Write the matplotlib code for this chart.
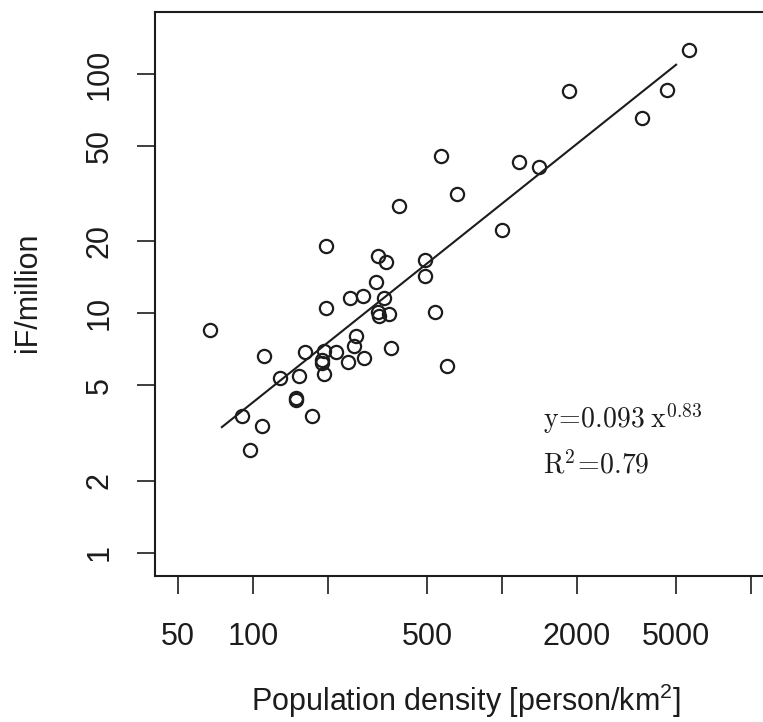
import numpy as np
import matplotlib
matplotlib.use("Agg")
from matplotlib import pyplot as plt
from matplotlib.ticker import FixedLocator, FixedFormatter

plt.rcParams['font.family'] = ['Liberation Sans', 'DejaVu Sans']
plt.rcParams['mathtext.fontset'] = 'custom'
plt.rcParams['mathtext.rm'] = 'Liberation Sans'
plt.rcParams['mathtext.it'] = 'Liberation Sans'

# data
density = [67.3, 90.5, 108.9, 97.4, 110.9, 128.7, 149.2, 149.2, 172.4, 152.4,
           161.2, 192.2, 189.2, 189.2, 193.4, 216.2, 240.7, 280.2, 255.4, 260.2,
           356.6, 197.0, 245.2, 275.9, 337.3, 317.8, 319.9, 351.0, 536.0, 599.0,
           197.0, 313.2, 317.8, 343.6, 488.7, 488.7, 384.0, 566.6, 657.3, 1002.8,
           1170.6, 1409.0, 1860.7, 3636.0, 4600.0, 5656.0]
iF = [8.53, 3.73, 3.39, 2.69, 6.64, 5.38, 4.42, 4.33, 3.73, 5.48,
      6.88, 6.97, 6.39, 6.23, 5.59, 6.90, 6.27, 6.52, 7.31, 8.08,
      7.17, 10.54, 11.57, 11.83, 11.61, 10.17, 9.76, 9.92, 10.15, 6.03,
      19.15, 13.54, 17.44, 16.41, 16.73, 14.35, 28.05, 45.64, 31.67, 22.34,
      42.96, 40.68, 84.55, 65.79, 85.9, 126.2]

# fitted power law y = 0.093 x^0.83, drawn between its two ends
fit_x = [75, 5000]
fit_y = [3.35, 109.3]

x_ticks = [50, 100, 200, 500, 1000, 2000, 5000, 10000]
x_labels = ["50", "100", "", "500", "", "2000", "5000", ""]
y_ticks = [1, 2, 5, 10, 20, 50, 100]
y_labels = ["1", "2", "5", "10", "20", "50", "100"]

ink = "#1c1c1c"

fig = plt.figure(figsize=(7.63, 7.22), dpi=100)
ax = fig.add_axes([0.2031, 0.2022, 0.8113, 0.7816])

ax.plot(density, iF, "o", mfc="none", mec=ink, mew=1.6, ms=9.5)
ax.plot(fit_x, fit_y, color=ink, lw=1.5)

ax.set_xscale("log")
ax.set_yscale("log")
ax.set_xlim(40.4, 12360)
ax.set_ylim(0.80, 182)

ax.xaxis.set_major_locator(FixedLocator(x_ticks))
ax.xaxis.set_major_formatter(FixedFormatter(x_labels))
ax.yaxis.set_major_locator(FixedLocator(y_ticks))
ax.yaxis.set_major_formatter(FixedFormatter(y_labels))
ax.minorticks_off()

ax.tick_params(axis="both", length=13, width=1.2, color=ink, labelcolor=ink, labelsize=22)
ax.tick_params(axis="x", pad=20)
ax.tick_params(axis="y", pad=16)
for lab in ax.get_yticklabels():
    lab.set_rotation(90)
    lab.set_va("center")

for s in ax.spines.values():
    s.set_linewidth(1.5)
    s.set_color(ink)

fig.text(466 / 763, 1 - 711 / 722, "Population density [person/km$^2$]",
         ha="center", va="baseline", fontsize=22, color=ink)
fig.text(28 / 763, 1 - 292 / 722, "iF/million", rotation=90,
         ha="center", va="center", fontsize=22, color=ink)

fig.text(543 / 763, 1 - 428 / 722, r"$\mathrm{y\!=\!0.093\;x^{0.83}}$",
         ha="left", va="baseline", fontsize=20, color=ink, math_fontfamily="cm")
fig.text(543 / 763, 1 - 474 / 722, r"$\mathrm{R^{2}\!=\!0.79}$",
         ha="left", va="baseline", fontsize=20, color=ink, math_fontfamily="cm")

fig.savefig("out.png", dpi=100)
